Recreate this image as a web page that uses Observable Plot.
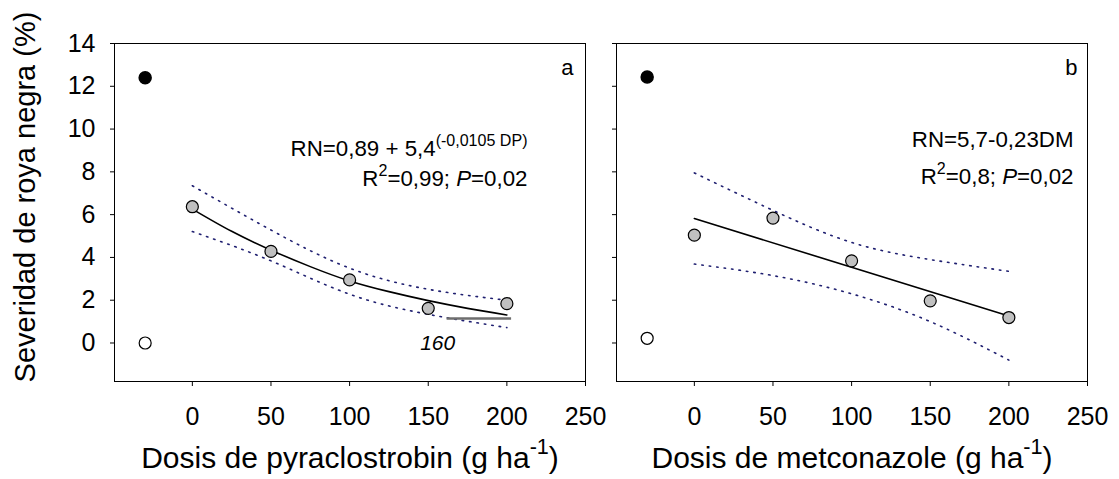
<!DOCTYPE html>
<html><head><meta charset="utf-8">
<script src="https://cdn.jsdelivr.net/npm/d3@7"></script>
<script src="https://cdn.jsdelivr.net/npm/@observablehq/plot@0.6"></script>
<style>
body{margin:0;background:#fff;}
#wrap{display:flex;width:1119px;height:479px;overflow:hidden;}
svg{overflow:visible;display:block;}
</style></head><body><div id="wrap"></div>
<script>
// ---- data ----
const doses = [0, 50, 100, 150, 200];
const severityPyraclostrobin = [6.37, 4.28, 2.95, 1.62, 1.84];
const severityMetconazole = [5.04, 5.84, 3.84, 1.97, 1.19];
const controlDose = -30;
const controlUntreated = [12.4, 12.43];   // panel a, panel b
const controlProtected = [0.0, 0.22];     // panel a, panel b
const fitDosesA = [0, 25, 50, 75, 100, 125, 150, 175, 200];
const fitA = [6.26, 5.22, 4.34, 3.57, 2.90, 2.40, 1.98, 1.62, 1.31];
const upperA = [7.35, 5.28, 3.5, 2.51, 2.0];
const lowerA = [5.21, 3.84, 2.28, 1.34, 0.72];
const fitDosesB = [0, 200];
const fitB = [5.82, 1.26];
const upperB = [7.95, 6.2, 4.7, 3.9, 3.35];
const lowerB = [3.69, 3.15, 2.3, 1.0, -0.8];
const thresholdA = [{x1: 162, x2: 203, y: 1.15}];
const thresholdLabelA = [{x: 156, y: 0, text: "160"}];
const yTicks = [0, 2, 4, 6, 8, 10, 12, 14];
const xTicks = [0, 50, 100, 150, 200, 250];
const panelLetters = ["a", "b"];
const equations = [
  ["RN=0,89 + 5,4^(-0,0105 DP)^", "R^2^=0,99; *P*=0,02"],
  ["RN=5,7-0,23DM", "R^2^=0,8; *P*=0,02"]
];
const xTitles = ["Dosis de pyraclostrobin (g ha^-1^)", "Dosis de metconazole (g ha^-1^)"];
const yTitle = "Severidad de roya negra (%)";

// ---- helpers ----
const zip = (xs, ys) => xs.map((x, j) => ({x, y: ys[j]}));
function applyMarkup(svg) {
  d3.select(svg).selectAll("text").each(function () {
    const s = this.textContent;
    if (!/[\^*]/.test(s)) return;
    const el = d3.select(this);
    el.text(null);
    let sup = false, it = false, raised = false;
    for (const part of s.split(/([\^*])/)) {
      if (part === "^") { sup = !sup; continue; }
      if (part === "*") { it = !it; continue; }
      if (!part) continue;
      const t = el.append("tspan").text(part);
      if (sup) {
        t.attr("font-size", "0.72em");
        if (!raised) t.attr("dy", "-0.62em");
        raised = true;
      } else if (raised) {
        t.attr("dy", "0.45em");
        raised = false;
      }
      if (it) t.attr("font-style", "italic");
    }
  });
}

const dotStroke = "#1f1f70";
const font = "'Liberation Sans', Arial, sans-serif";

function panel(i) {
  const left = i === 0;
  const pts = zip(doses, left ? severityPyraclostrobin : severityMetconazole);
  const fit = left ? zip(fitDosesA, fitA) : zip(fitDosesB, fitB);
  const up = zip(doses, left ? upperA : upperB);
  const lo = zip(doses, left ? lowerA : lowerB);
  const marks = [
    Plot.frame({stroke: "black", strokeWidth: 1}),
    Plot.axisX({ticks: xTicks, tickSize: 5, tickPadding: 21, label: null}),
    Plot.axisY({ticks: yTicks, tickSize: 4, tickPadding: 15, label: null,
                tickFormat: left ? (d => String(d)) : (() => "")}),
    Plot.line(up, {x: "x", y: "y", stroke: dotStroke, strokeWidth: 1.6, strokeDasharray: "1.5,6", curve: "natural"}),
    Plot.line(lo, {x: "x", y: "y", stroke: dotStroke, strokeWidth: 1.6, strokeDasharray: "1.5,6", curve: "natural"}),
    Plot.line(fit, {x: "x", y: "y", stroke: "black", strokeWidth: 1.6, curve: "natural"}),
  ];
  if (left) {
    marks.push(Plot.ruleY(thresholdA, {y: "y", x1: "x1", x2: "x2", stroke: "#6e6e6e", strokeWidth: 2.5}));
    marks.push(Plot.text(thresholdLabelA, {x: "x", y: "y", text: "text", fontSize: 21, fontStyle: "italic", fill: "black"}));
    marks.push(Plot.text([yTitle], {text: d => d, frameAnchor: "left", rotate: -90, dx: -89, dy: -15.5,
      fontSize: 29, textAnchor: "middle", lineAnchor: "middle", fill: "black"}));
  }
  marks.push(
    Plot.dot(pts, {x: "x", y: "y", r: 6, fill: "#c0c0c0", stroke: "black", strokeWidth: 1.2}),
    Plot.dot([{x: controlDose, y: controlUntreated[i]}], {x: "x", y: "y", r: 6, fill: "black", stroke: "black"}),
    Plot.dot([{x: controlDose, y: controlProtected[i]}], {x: "x", y: "y", r: 6, fill: "white", stroke: "black", strokeWidth: 1.2}),
    Plot.text([panelLetters[i]], {text: d => d, frameAnchor: "top-right", textAnchor: "end", lineAnchor: "bottom",
      dx: left ? -12 : -10, dy: 31, fontSize: 22, fill: "black"}),
    Plot.text([equations[i][0]], {text: d => d, frameAnchor: "top-right", textAnchor: "end", lineAnchor: "bottom",
      dx: left ? -58 : -14, dy: left ? 112 : 103, fontSize: 22.3, fill: "black"}),
    Plot.text([equations[i][1]], {text: d => d, frameAnchor: "top-right", textAnchor: "end", lineAnchor: "bottom",
      dx: left ? -58 : -14, dy: left ? 142 : 140, fontSize: 22.3, fill: "black"}),
    Plot.text([xTitles[i]], {text: d => d, frameAnchor: "bottom", textAnchor: "middle", lineAnchor: "bottom",
      dy: 86, fontSize: 30, fill: "black"})
  );
  const svg = Plot.plot({
    width: left ? 610 : 509,
    height: 479,
    marginTop: 43,
    marginBottom: 98,
    marginLeft: left ? 114 : 6,
    marginRight: left ? 25 : 32,
    style: {fontFamily: font, fontSize: "25px", color: "black", background: "white", overflow: "visible"},
    x: {domain: [-49.5, 250]},
    y: {domain: [-1.8, 14]},
    marks
  });
  applyMarkup(svg);
  return svg;
}

const wrap = document.getElementById("wrap");
wrap.appendChild(panel(0));
wrap.appendChild(panel(1));
</script>
</body></html>
